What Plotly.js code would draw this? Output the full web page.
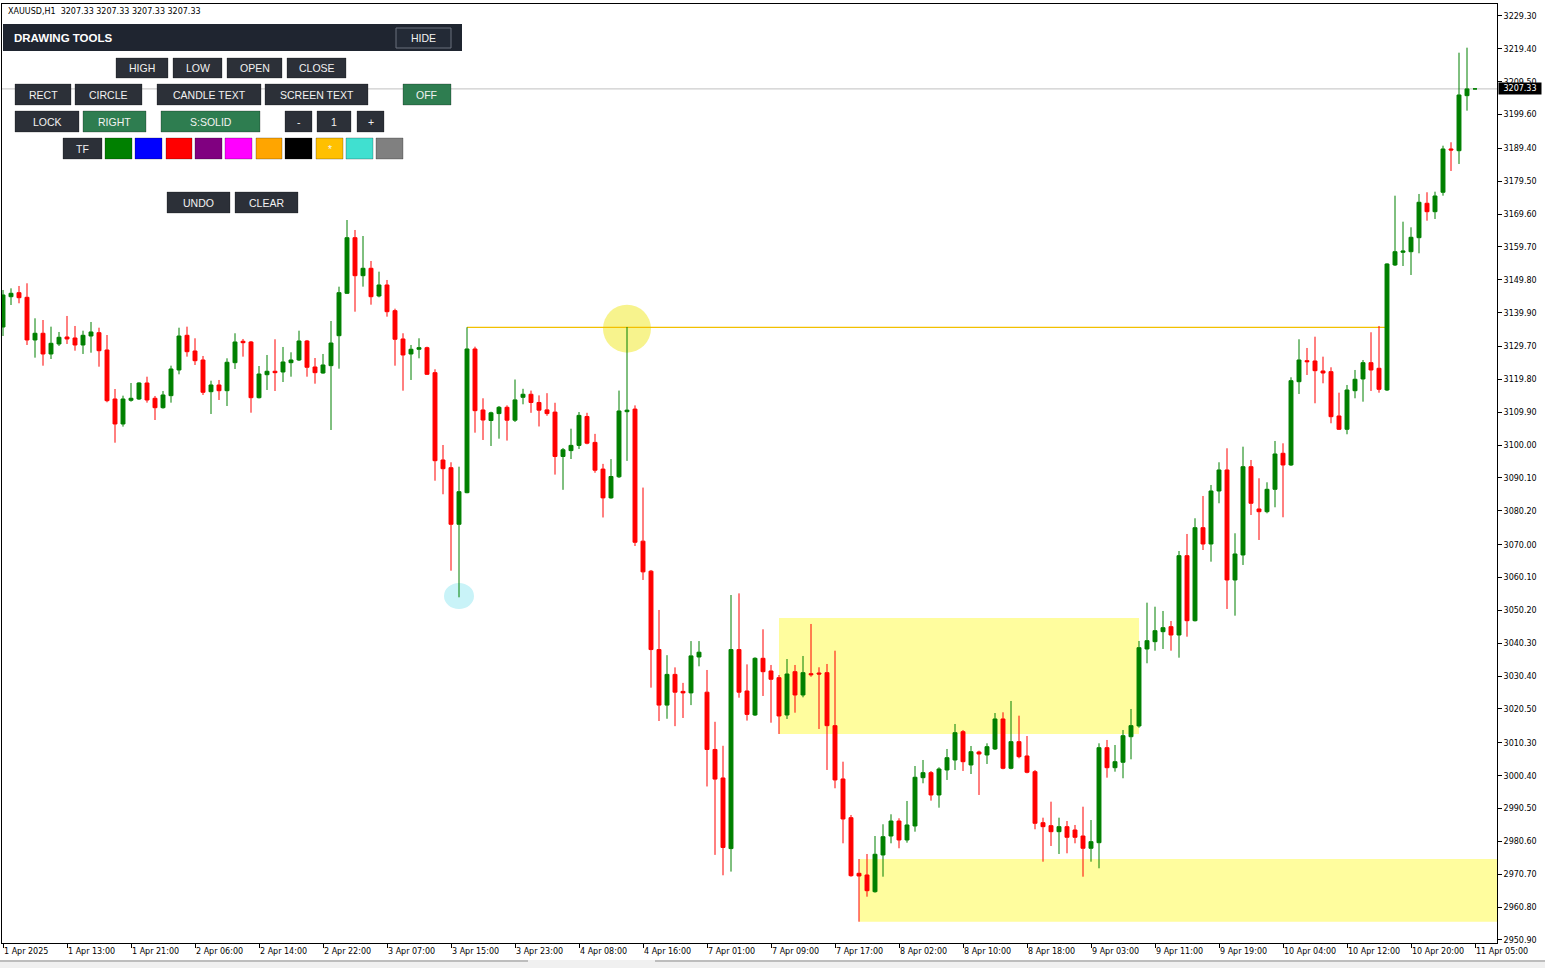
<!DOCTYPE html>
<html><head><meta charset="utf-8">
<script src="https://cdn.plot.ly/plotly-3.0.1.min.js"></script>
<style>html,body{margin:0;padding:0;background:#fff;overflow:hidden}#chart{width:1545px;height:968px}</style>
</head><body><div id="chart"></div>
<script>
// ---- data (XAUUSD H1, bar index 0 = 1 Apr 2025 05:00) ----
const timeLabels = ["1 Apr 2025","1 Apr 13:00","1 Apr 21:00","2 Apr 06:00","2 Apr 14:00","2 Apr 22:00","3 Apr 07:00","3 Apr 15:00","3 Apr 23:00","4 Apr 08:00","4 Apr 16:00","7 Apr 01:00","7 Apr 09:00","7 Apr 17:00","8 Apr 02:00","8 Apr 10:00","8 Apr 18:00","9 Apr 03:00","9 Apr 11:00","9 Apr 19:00","10 Apr 04:00","10 Apr 12:00","10 Apr 20:00","11 Apr 05:00"];
const priceLabels = ["3229.30","3219.40","3209.50","3199.60","3189.40","3179.50","3169.60","3159.70","3149.80","3139.90","3129.70","3119.80","3109.90","3100.00","3090.10","3080.20","3070.00","3060.10","3050.20","3040.30","3030.40","3020.50","3010.30","3000.40","2990.50","2980.60","2970.70","2960.80","2950.90"];

const openP = [3135.59,3144.72,3145.93,3144.54,3131.68,3133.70,3127.46,3130.47,3132.58,3132.28,
3130.17,3132.88,3133.88,3128.66,3113.90,3106.37,3113.51,3113.90,3118.72,3114.11,
3111.28,3114.90,3122.64,3133.09,3128.36,3125.65,3116.10,3118.12,3116.40,3124.84,
3131.29,3131.08,3114.29,3121.22,3122.25,3122.04,3124.84,3125.65,3131.38,3123.54,
3121.73,3123.94,3132.97,3145.74,3162.50,3151.05,3153.28,3144.94,3148.25,3140.51,
3131.98,3127.46,3128.88,3129.36,3121.83,3095.52,3093.20,3076.15,3085.67,3128.97,
3110.59,3107.42,3109.50,3111.40,3107.51,3114.41,3115.32,3112.85,3110.62,3109.95,
3096.58,3098.35,3099.92,3108.63,3100.82,3092.78,3084.10,3090.46,3110.07,3110.86,
3071.06,3062.02,3038.40,3021.67,3030.92,3025.80,3025.35,3036.17,3025.56,3008.30,
2999.71,2978.44,3038.40,3025.92,3018.69,3035.77,3031.95,3029.93,3018.69,3031.74,
3024.72,3031.13,3031.34,3031.44,3015.47,2999.41,2987.75,2970.99,2970.48,2965.45,
2976.51,2982.23,2986.75,2981.03,2985.25,2999.80,3001.31,2994.59,3002.12,3005.13,
3013.66,3003.63,3007.54,3006.64,3008.45,3017.49,3002.63,3010.65,3006.34,3001.61,
2986.24,2985.34,2983.53,2985.04,2984.04,2982.23,2978.53,2980.21,3008.84,3002.81,
3004.44,3012.15,3015.38,3038.58,3040.78,3043.79,3045.30,3042.79,3066.69,3047.10,
3075.12,3070.21,3086.18,3092.51,3059.37,3066.90,3093.50,3080.76,3079.94,3086.69,
3097.54,3094.02,3119.11,3125.44,3125.35,3122.34,3122.13,3108.78,3104.77,3116.40,
3119.93,3124.84,3123.15,3116.61,3154.28,3158.10,3158.28,3162.50,3172.87,3170.33,
3176.18,3189.23,3188.71,3205.29,3207.33];

const highP = [3146.74,3147.24,3147.95,3148.76,3138.21,3137.70,3135.69,3134.09,3138.91,3135.90,
3134.48,3137.10,3135.38,3133.18,3116.91,3114.90,3118.72,3118.93,3120.62,3114.81,
3116.31,3123.94,3135.38,3135.69,3132.19,3126.86,3119.41,3119.63,3126.16,3133.70,
3131.98,3131.38,3123.84,3127.16,3131.89,3129.57,3127.97,3134.48,3131.68,3126.25,
3127.46,3137.40,3147.74,3167.83,3164.82,3163.01,3155.48,3152.26,3149.76,3141.11,
3133.70,3130.17,3132.19,3129.66,3122.85,3100.04,3094.83,3093.50,3135.50,3129.66,
3114.11,3110.07,3111.79,3111.97,3119.77,3116.97,3116.43,3114.99,3115.65,3112.76,
3099.14,3104.95,3109.98,3109.74,3103.39,3094.35,3095.79,3116.43,3135.60,3111.97,
3087.21,3062.38,3050.33,3036.71,3033.03,3028.36,3040.96,3040.96,3032.25,3016.64,
3009.41,3054.84,3055.33,3033.94,3036.08,3044.51,3033.76,3030.74,3035.56,3033.76,
3036.47,3046.11,3033.06,3034.06,3038.06,3004.62,2988.56,2975.30,2976.81,2982.23,
2985.76,2988.77,2987.57,2992.78,3003.32,3005.13,3001.80,3002.93,3008.45,3015.98,
3014.17,3009.35,3007.93,3010.16,3019.29,3019.50,3022.91,3018.48,3012.36,3002.12,
2987.75,2992.57,2987.75,2986.75,2985.55,2991.06,2987.05,3010.16,3011.16,3009.65,
3014.17,3020.50,3040.99,3052.53,3051.32,3050.03,3047.01,3068.10,3073.23,3077.96,
3084.68,3087.99,3094.83,3099.05,3073.44,3099.53,3095.52,3090.01,3088.80,3101.25,
3100.55,3120.44,3131.89,3129.27,3132.67,3126.65,3123.45,3115.80,3118.12,3122.64,
3125.65,3134.00,3135.90,3154.79,3175.15,3167.32,3165.63,3175.67,3176.18,3176.36,
3190.22,3191.25,3218.24,3219.75,3207.33];

const lowP = [3132.88,3142.22,3142.74,3130.17,3126.35,3123.93,3125.95,3129.87,3130.47,3128.45,
3127.46,3127.85,3123.63,3112.91,3100.73,3105.56,3113.09,3113.60,3112.79,3107.57,
3110.98,3112.79,3121.34,3126.65,3124.15,3115.11,3109.38,3113.60,3111.79,3122.94,
3126.65,3109.77,3114.05,3116.61,3116.31,3119.02,3120.62,3125.35,3120.62,3118.51,
3121.52,3104.56,3123.03,3145.54,3140.20,3147.74,3142.31,3144.54,3138.70,3123.93,
3116.40,3119.63,3126.16,3121.13,3089.28,3085.19,3062.17,3054.15,3085.50,3103.75,
3101.55,3099.74,3101.94,3101.37,3106.97,3112.30,3109.74,3105.62,3108.84,3091.12,
3086.54,3095.82,3098.84,3100.25,3091.67,3078.20,3083.86,3090.10,3095.25,3069.61,
3059.37,3026.92,3016.88,3017.55,3015.32,3017.79,3021.67,3033.36,2997.15,2976.54,
2970.39,2971.51,3023.90,3017.00,3018.39,3024.42,3016.37,3012.97,3017.49,3019.38,
3024.02,3030.23,3014.47,3002.12,2996.61,2980.03,2969.97,2956.41,2963.94,2965.15,
2969.97,2980.03,2978.53,2980.21,2983.53,2998.11,2992.87,2990.76,2999.11,3002.12,
3001.82,3000.91,2994.59,3003.93,3008.14,3002.33,3002.33,3005.64,3001.12,2984.25,
2974.49,2979.22,2976.81,2977.02,2980.03,2969.97,2974.49,2972.50,2999.80,3001.61,
2999.62,3005.34,3014.86,3034.27,3038.06,3038.58,3038.06,3035.95,3042.28,3046.86,
3068.40,3064.88,3082.48,3050.63,3048.61,3063.89,3078.95,3071.42,3079.46,3081.27,
3078.26,3093.72,3115.41,3121.13,3112.61,3118.63,3106.58,3104.56,3103.27,3114.11,
3113.09,3116.31,3115.80,3116.31,3153.97,3153.97,3151.26,3157.80,3167.62,3168.14,
3175.15,3182.60,3184.71,3200.77,3207.33];

const closeP = [3145.24,3145.74,3144.42,3131.68,3133.70,3127.46,3130.68,3132.49,3131.98,3130.17,
3133.09,3134.09,3128.45,3113.39,3106.37,3113.90,3114.11,3118.72,3113.60,3111.28,
3115.11,3122.94,3132.88,3128.15,3125.44,3115.92,3118.12,3116.40,3124.96,3131.08,
3130.86,3114.29,3121.43,3122.25,3121.83,3125.05,3125.65,3131.38,3123.45,3121.83,
3124.15,3130.77,3145.93,3162.50,3151.05,3153.28,3144.72,3148.25,3140.20,3131.89,
3127.16,3128.88,3129.36,3121.34,3095.31,3092.90,3076.15,3085.97,3128.97,3110.38,
3107.57,3109.74,3111.40,3107.51,3113.63,3115.32,3112.85,3110.53,3109.50,3096.58,
3098.60,3099.92,3108.96,3100.58,3092.45,3084.10,3090.55,3110.29,3110.53,3070.73,
3061.81,3038.40,3021.67,3030.92,3025.56,3025.35,3036.50,3037.61,3008.30,2999.38,
2978.77,3038.40,3025.56,3018.87,3035.77,3031.74,3029.45,3018.39,3031.04,3024.72,
3031.44,3030.83,3031.04,3015.47,2999.11,2987.36,2970.27,2970.18,2965.75,2976.72,
2982.02,2986.75,2981.03,2985.55,2999.92,3001.31,2994.59,3002.42,3005.82,3013.36,
3004.62,3007.63,3006.94,3009.14,3017.49,3002.63,3010.65,3006.13,3001.43,2986.06,
2985.04,2983.53,2985.04,2981.84,2981.84,2978.53,2980.52,3008.84,3002.81,3004.62,
3012.45,3015.47,3038.97,3041.08,3044.09,3044.99,3042.79,3066.69,3047.10,3075.12,
3070.21,3086.18,3092.51,3059.37,3067.20,3093.50,3082.48,3079.94,3086.69,3097.33,
3094.02,3119.41,3125.65,3125.14,3122.43,3121.73,3108.57,3104.77,3116.61,3119.84,
3124.84,3122.64,3116.82,3154.58,3158.28,3158.49,3162.62,3173.17,3170.33,3175.07,
3189.23,3188.93,3205.50,3207.33,3207.33];

const bidPrice = 3207.33;
// drawn objects (bar index / price)
const zoneBars   = [[97, 142], [107, 190]];
const zonePrices = [[3012.97, 3047.92], [2956.41, 2975.30]];
const trendBars  = [58, 173];
const trendPrice = 3135.5;
const markBars   = [78, 57];
const markPrices = [3135.1, 3054.55];

// ---- geometry ----
const W = 1545, H = 968, PL = 2, PR = 1497, PT = 4, PB = 943;
const px = x => (x - PL) / (PR - PL);
const py = y => (PB - y) / (PB - PT);

const barIdx = openP.map((_, i) => i);
const trace = {
  type: 'candlestick', x: barIdx, open: openP, high: highP, low: lowP, close: closeP,
  increasing: {line: {color: '#008000', width: 1}, fillcolor: '#008000'},
  decreasing: {line: {color: '#ff0000', width: 1}, fillcolor: '#ff0000'},
  whiskerwidth: 0, hoverinfo: 'skip'
};

const shapes = [];
const annotations = [];
// zones
const zoneColor = 'rgb(255,253,158)';
zoneBars.forEach((b, k) => shapes.push({type: 'rect', layer: 'below', xref: 'x', yref: 'y',
  x0: b[0], x1: b[1], y0: zonePrices[k][0], y1: zonePrices[k][1], fillcolor: zoneColor, line: {width: 0}}));
// circles
const markStyle = [{fill: '#f7f38d', rx: 24, ry: 24}, {fill: '#c9f3f8', rx: 15, ry: 13}];
markBars.forEach((b, k) => shapes.push({type: 'circle', layer: 'below', xref: 'x', yref: 'y',
  xsizemode: 'pixel', ysizemode: 'pixel', xanchor: b, yanchor: markPrices[k],
  x0: -markStyle[k].rx, x1: markStyle[k].rx, y0: -markStyle[k].ry, y1: markStyle[k].ry,
  fillcolor: markStyle[k].fill, line: {width: 0}}));
// horizontal trend line
shapes.push({type: 'line', layer: 'below', xref: 'x', yref: 'y', x0: trendBars[0], x1: trendBars[1],
  y0: trendPrice, y1: trendPrice, line: {color: '#f2c000', width: 1.2}});
// bid line
shapes.push({type: 'line', layer: 'below', xref: 'paper', yref: 'y', x0: 0, x1: 1, y0: bidPrice, y1: bidPrice,
  line: {color: '#c0c0c0', width: 1}});

// bottom status strip
shapes.push({type: 'rect', xref: 'paper', yref: 'paper', x0: px(0), x1: px(1545), y0: py(968), y1: py(960),
  fillcolor: '#f0f0f0', line: {width: 0}});
shapes.push({type: 'line', xref: 'paper', yref: 'paper', x0: px(0), x1: px(528), y0: py(961), y1: py(961), line: {color: '#8a8a8a', width: 1}});
shapes.push({type: 'line', xref: 'paper', yref: 'paper', x0: px(655), x1: px(1545), y0: py(961), y1: py(961), line: {color: '#8a8a8a', width: 1}});

// ---- drawing tools panel ----
const dark = '#2c3038', green = '#2e7d50';
shapes.push({type: 'rect', xref: 'paper', yref: 'paper', x0: px(3), x1: px(462), y0: py(51), y1: py(24),
  fillcolor: '#1f2530', line: {width: 0}});
annotations.push({xref: 'paper', yref: 'paper', x: px(12), y: py(38), xanchor: 'left', yanchor: 'middle', showarrow: false,
  text: '<b>DRAWING TOOLS</b>', font: {family: 'Liberation Sans', size: 11.5, color: '#ffffff'}});
const buttons = [
  ['HIDE', 396, 451, 28, 48, '#232a36', '#6a717c'],
  ['HIGH', 116, 168, 58, 78, dark], ['LOW', 173, 222, 58, 78, dark], ['OPEN', 227, 282, 58, 78, dark], ['CLOSE', 287, 346, 58, 78, dark],
  ['RECT', 15, 71, 84, 105, dark], ['CIRCLE', 75, 142, 84, 105, dark], ['CANDLE TEXT', 157, 261, 84, 105, dark],
  ['SCREEN TEXT', 265, 368, 84, 105, dark], ['OFF', 403, 451, 84, 105, green],
  ['LOCK', 15, 79, 111, 132, dark], ['RIGHT', 83, 146, 111, 132, green], ['S:SOLID', 161, 260, 111, 132, green],
  ['-', 285, 312, 111, 132, dark], ['1', 317, 351, 111, 132, dark], ['+', 357, 384, 111, 132, dark],
  ['TF', 63, 102, 138, 159, dark],
  ['', 105, 132, 138, 159, '#008000'], ['', 135, 162, 138, 159, '#0000ff'], ['', 166, 192, 138, 159, '#ff0000'],
  ['', 195, 222, 138, 159, '#800080'], ['', 225, 252, 138, 159, '#ff00ff'], ['', 256, 282, 138, 159, '#ffa500'],
  ['', 285, 312, 138, 159, '#000000'], ['*', 316, 343, 138, 159, '#ffc000'], ['', 346, 373, 138, 159, '#40e0d0'],
  ['', 376, 403, 138, 159, '#808080'],
  ['UNDO', 167, 230, 192, 213, dark], ['CLEAR', 235, 298, 192, 213, dark]
];
buttons.forEach(b => {
  shapes.push({type: 'rect', xref: 'paper', yref: 'paper', x0: px(b[1]), x1: px(b[2]), y0: py(b[4]), y1: py(b[3]),
    fillcolor: b[5], line: {color: b[6] || 'rgba(0,0,0,0.25)', width: 1}});
  if (b[0]) annotations.push({xref: 'paper', yref: 'paper', x: px((b[1] + b[2]) / 2), y: py((b[3] + b[4]) / 2 + 0.5),
    xanchor: 'center', yanchor: 'middle', showarrow: false, text: b[0],
    font: {family: 'Liberation Sans', size: 10.5, color: '#f2f2f2'}});
});

// symbol header text
annotations.push({xref: 'paper', yref: 'paper', x: px(6), y: py(11), xanchor: 'left', yanchor: 'middle', showarrow: false,
  text: 'XAUUSD,H1\u00a0\u00a0' + [openP[184], highP[184], lowP[184], closeP[184]].map(v => v.toFixed(2)).join(' '),
  font: {family: 'DejaVu Sans', size: 8, color: '#000'}});
// bid price tag
annotations.push({xref: 'paper', yref: 'y', x: 1, y: bidPrice, xanchor: 'left', yanchor: 'middle', xshift: 1, showarrow: false,
  text: bidPrice.toFixed(2), bgcolor: '#000', borderpad: 1, width: 40, align: 'center',
  font: {family: 'DejaVu Sans', size: 8, color: '#fff'}});

const layout = {
  width: W, height: H, margin: {l: PL, r: W - PR, t: PT, b: H - PB, pad: 0},
  paper_bgcolor: '#fff', plot_bgcolor: '#fff', showlegend: false, hovermode: false, dragmode: false,
  font: {family: 'DejaVu Sans', size: 8, color: '#000'},
  xaxis: {range: [-0.125, 186.75], tickmode: 'array', tickvals: timeLabels.map((_, k) => k * 8), ticktext: timeLabels,
    ticks: 'outside', ticklen: 4, tickwidth: 1, tickcolor: '#000', ticklabelposition: 'outside right',
    showgrid: false, zeroline: false, showline: true, linecolor: '#000', linewidth: 1, mirror: true,
    rangeslider: {visible: false}, fixedrange: true, automargin: false,
    tickfont: {family: 'DejaVu Sans', size: 8, color: '#000'}},
  yaxis: {side: 'right', range: [2949.99, 3232.91], tickmode: 'array', tickvals: priceLabels.map(Number), ticktext: priceLabels,
    ticks: 'outside', ticklen: 4, tickwidth: 1, tickcolor: '#000',
    showgrid: false, zeroline: false, showline: true, linecolor: '#000', linewidth: 1, mirror: true,
    fixedrange: true, automargin: false, tickfont: {family: 'DejaVu Sans', size: 8, color: '#000'}},
  shapes: shapes, annotations: annotations
};
Plotly.newPlot('chart', [trace], layout, {displayModeBar: false, staticPlot: true});
</script></body></html>
